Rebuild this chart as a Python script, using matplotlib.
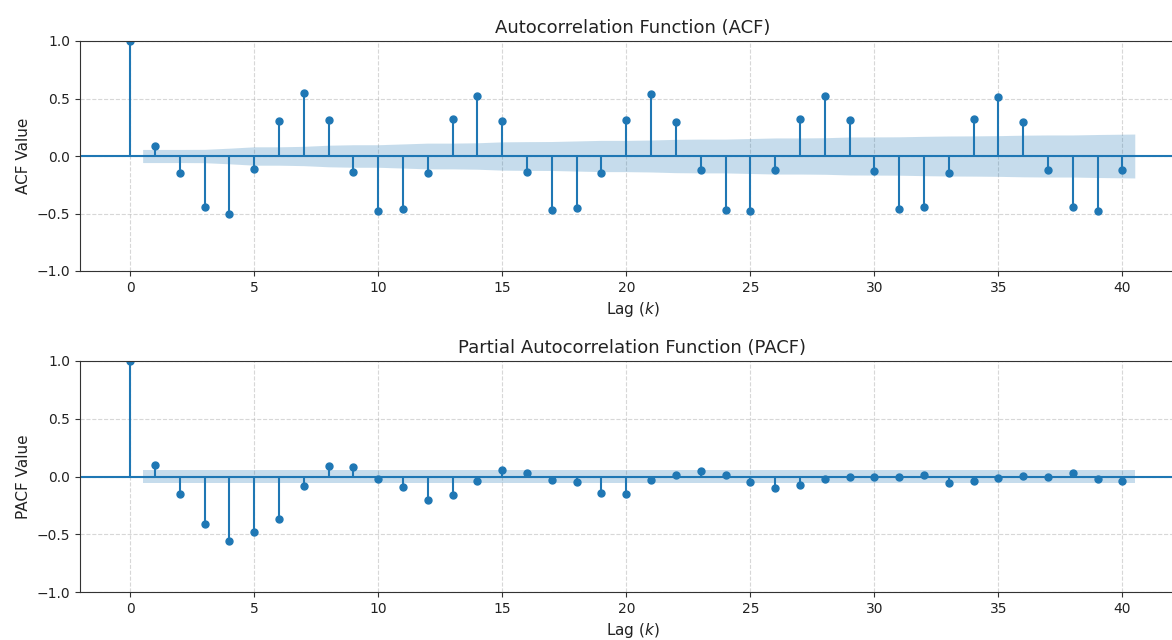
import numpy as np
import matplotlib
matplotlib.use("Agg")
import matplotlib.pyplot as plt

# Sample autocorrelation values, lags 0..40
lags = np.arange(0, 41)
acf_values = [
    1.0, 0.091, -0.150, -0.447, -0.506, -0.112, 0.306, 0.544, 0.315, -0.138,
    -0.476, -0.459, -0.147, 0.326, 0.526, 0.306, -0.138, -0.468, -0.450, -0.147,
    0.315, 0.538, 0.297, -0.120, -0.468, -0.476, -0.120, 0.326, 0.518, 0.309,
    -0.129, -0.459, -0.447, -0.147, 0.326, 0.509, 0.297, -0.126, -0.447, -0.476,
    -0.120,
]

# Partial autocorrelation values, lags 0..40
pacf_values = [
    1.0, 0.100, -0.154, -0.410, -0.556, -0.478, -0.365, -0.078, 0.093, 0.084,
    -0.023, -0.087, -0.203, -0.162, -0.043, 0.055, 0.026, -0.032, -0.049, -0.142,
    -0.154, -0.032, 0.017, 0.046, 0.017, -0.049, -0.099, -0.070, -0.023, -0.003,
    -0.003, -0.003, 0.017, -0.058, -0.041, -0.014, 0.006, -0.003, 0.032, -0.023,
    -0.043,
]

# Half-widths of the 95% confidence band for lags 1..40
acf_band = [
    0.057, 0.057, 0.058, 0.068, 0.080, 0.080, 0.084, 0.094, 0.098, 0.098,
    0.105, 0.112, 0.112, 0.115, 0.123, 0.125, 0.126, 0.131, 0.136, 0.136,
    0.139, 0.145, 0.147, 0.147, 0.152, 0.157, 0.157, 0.159, 0.165, 0.166,
    0.167, 0.171, 0.174, 0.175, 0.177, 0.181, 0.183, 0.183, 0.187, 0.191,
]
pacf_band = [0.057] * 40

W, H = 1172, 640
fig = plt.figure(figsize=(W / 100, H / 100), dpi=100)


def axes_box(left, top, right, bottom):
    return [left / W, 1 - bottom / H, (right - left) / W, (bottom - top) / H]


ax1 = fig.add_axes(axes_box(80, 41, 1185, 271))
ax2 = fig.add_axes(axes_box(80, 361, 1185, 592))


def corr_plot(ax, values, band, title, ylabel):
    values = np.asarray(values, dtype=float)
    band = np.asarray(band, dtype=float)
    ax.vlines(lags, [0], values, color="C0", linewidth=1.5)
    ax.axhline(0, color="C0", linewidth=1.5)
    ax.margins(0.05)
    ax.plot(lags, values, marker="o", markersize=5, linestyle="None", color="C0")
    # confidence band, drawn from lag 0.5 to lag 40.5
    band_x = lags[1:].astype(float)
    band_x[0] -= 0.5
    band_x[-1] += 0.5
    ax.fill_between(band_x, -band, band, color="C0", alpha=0.25, linewidth=0)
    ax.set_ylim(-1, 1)
    ax.set_title(title, fontsize=13, color="#222222")
    ax.set_xlabel("Lag ($k$)", fontsize=11, color="#222222")
    ax.set_ylabel(ylabel, fontsize=11, color="#222222")
    ax.set_yticks([-1.0, -0.5, 0.0, 0.5, 1.0])
    ax.set_xticks(range(0, 41, 5))
    ax.tick_params(labelcolor="#222222", color="#333333")
    for spine in ax.spines.values():
        spine.set_color("#333333")
    ax.grid(True, linestyle="--", alpha=0.5)
    ax.set_axisbelow(True)


corr_plot(ax1, acf_values, acf_band, "Autocorrelation Function (ACF)", "ACF Value")
corr_plot(ax2, pacf_values, pacf_band, "Partial Autocorrelation Function (PACF)", "PACF Value")

fig.savefig("out.png", dpi=100)
